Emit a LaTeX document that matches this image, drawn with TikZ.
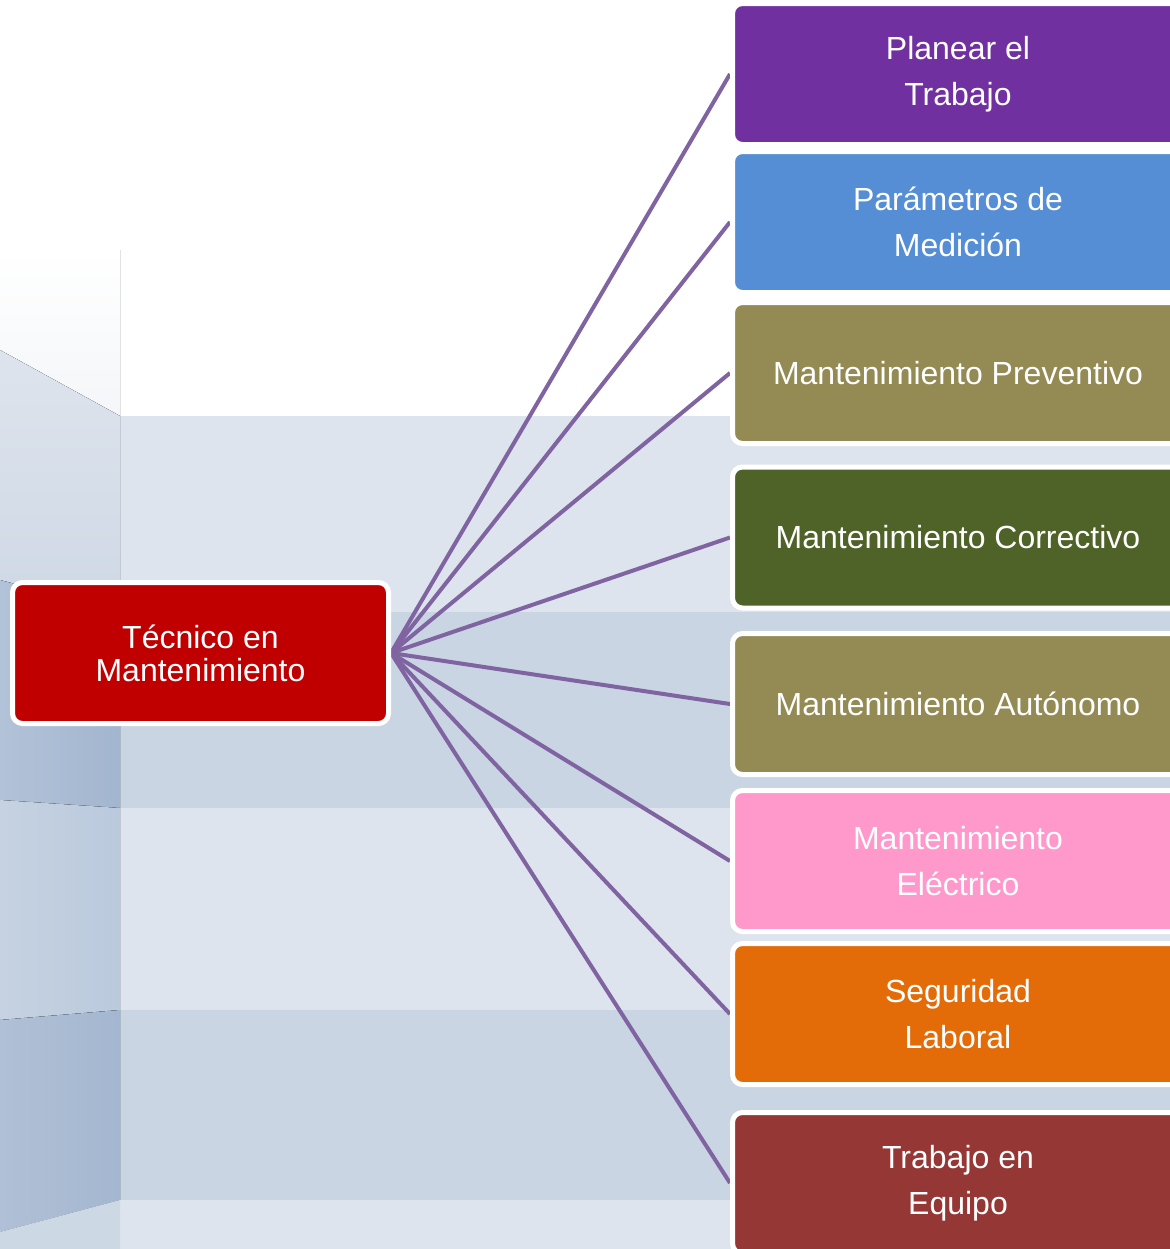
\documentclass[tikz,border=0pt]{standalone}
\usepackage{fontspec}
\setmainfont{Liberation Sans}
\pgfdeclarelayer{bgl}
\pgfdeclarelayer{lnl}
\pgfsetlayers{bgl,lnl,main}
\definecolor{bandlight}{HTML}{DEE4EE}
\definecolor{banddark}{HTML}{C9D5E3}
\definecolor{cpurple}{HTML}{7030A0}
\definecolor{cblue}{HTML}{558ED5}
\definecolor{colive}{HTML}{948A54}
\definecolor{cgreen}{HTML}{4F6228}
\definecolor{cpink}{HTML}{FF99CC}
\definecolor{corange}{HTML}{E36C09}
\definecolor{cbrown}{HTML}{953735}
\definecolor{cred}{HTML}{C00000}
\definecolor{cline}{HTML}{8064A2}
\definecolor{sdarkL}{RGB}{178,194,216}
\definecolor{sdarkR}{RGB}{163,182,207}
\definecolor{smidL}{RGB}{198,210,225}
\definecolor{smidR}{RGB}{186,202,221}
\definecolor{sdarkbL}{RGB}{176,192,214}
\definecolor{sdarkbR}{RGB}{164,183,208}
\definecolor{slast}{RGB}{205,216,229}
\definecolor{stopb}{RGB}{244,246,249}
\definecolor{sonet}{RGB}{222,228,237}
\definecolor{soneb}{RGB}{206,216,229}
\begin{document}
\begin{tikzpicture}[x=0.5pt,y=-0.5pt,
  leaf/.style={rounded corners=5pt, draw=white, line width=2.5pt,
    minimum width=225.5pt, minimum height=70.5pt, inner sep=0pt,
    text=white, align=center, font=\fontsize{16}{23}\selectfont},
  conn/.style={draw=cline, line width=2pt}]
\useasboundingbox (0,0) rectangle (1170,1249);
\clip (0,0) rectangle (1170,1249);
\begin{pgfonlayer}{bgl}
  % bands
  \fill[white] (0,0) rectangle (1170,416);
  \fill[bandlight] (0,416) rectangle (1170,612);
  \fill[banddark] (0,612) rectangle (1170,808);
  \fill[bandlight] (0,808) rectangle (1170,1010);
  \fill[banddark] (0,1010) rectangle (1170,1200);
  \fill[bandlight] (0,1200) rectangle (1170,1249);
  % left strip
  \fill[top color=white, bottom color=stopb] (0,250) -- (120,250) -- (120,416) -- (0,350) -- cycle;
  \fill[top color=sonet, bottom color=soneb] (0,350) -- (120,416) -- (120,612) -- (0,580) -- cycle;
  \fill[left color=sdarkL, right color=sdarkR] (0,580) -- (120,612) -- (120,808) -- (0,800) -- cycle;
  \fill[left color=smidL, right color=smidR] (0,800) -- (120,808) -- (120,1010) -- (0,1020) -- cycle;
  \fill[left color=sdarkbL, right color=sdarkbR] (0,1020) -- (120,1010) -- (120,1200) -- (0,1232) -- cycle;
  \fill[slast] (0,1232) -- (120,1200) -- (120,1249) -- (0,1249) -- cycle;
\end{pgfonlayer}
% central node
\node[leaf, fill=cred, minimum width=188pt, font=\fontsize{16}{16.5}\selectfont] (c) at (200.5,653) {Técnico en\\Mantenimiento};
% leaves
\node[leaf, fill=cpurple] (n1) at (958,74) {Planear el\\Trabajo};
\node[leaf, fill=cblue] (n2) at (958,222) {Parámetros de\\Medición};
\node[leaf, fill=colive] (n3) at (958,373) {Mantenimiento Preventivo};
\node[leaf, fill=cgreen] (n4) at (958,537.5) {Mantenimiento Correctivo};
\node[leaf, fill=colive] (n5) at (958,704) {Mantenimiento Autónomo};
\node[leaf, fill=cpink] (n6) at (958,861) {Mantenimiento\\Eléctrico};
\node[leaf, fill=corange] (n7) at (958,1014) {Seguridad\\Laboral};
\node[leaf, fill=cbrown] (n8) at (958,1183) {Trabajo en\\Equipo};
\begin{pgfonlayer}{lnl}
  \foreach \i in {1,...,8} \draw[conn] (c.east) -- (n\i.west);
\end{pgfonlayer}
\end{tikzpicture}
\end{document}
